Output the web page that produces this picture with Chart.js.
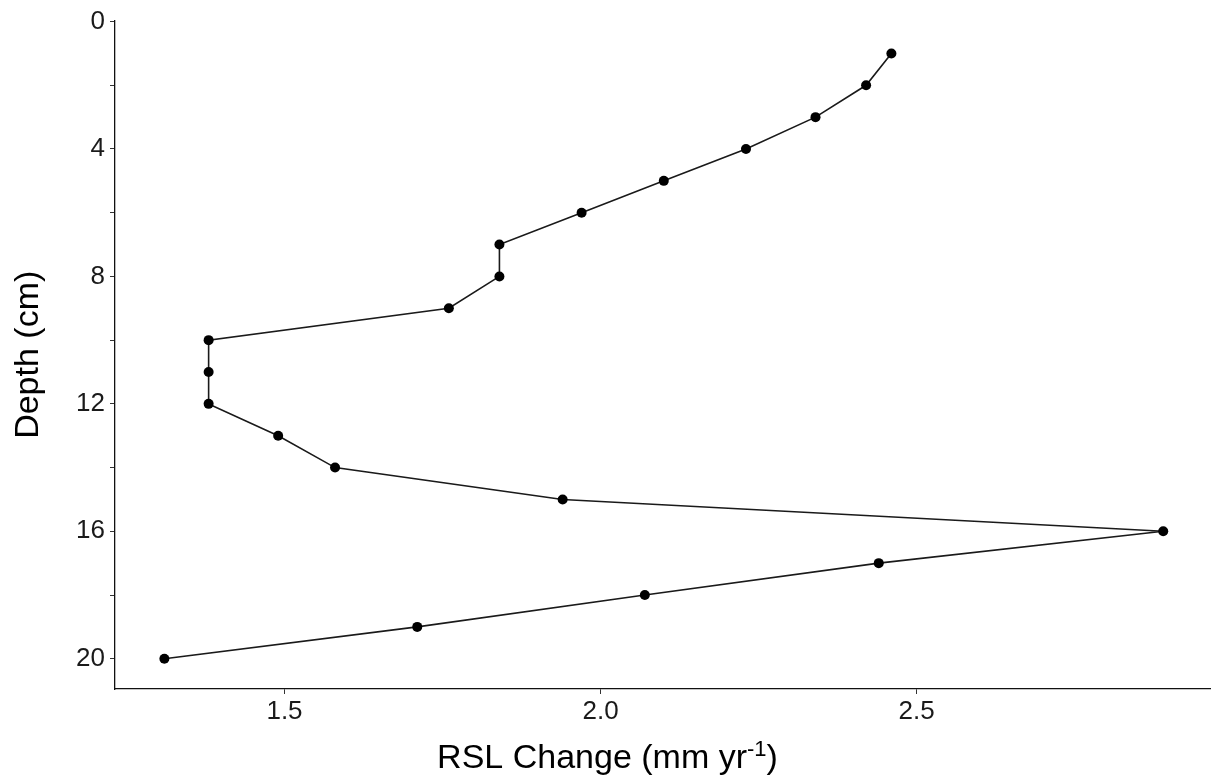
<!DOCTYPE html>
<html>
<head>
<meta charset="utf-8">
<script src="https://cdn.jsdelivr.net/npm/chart.js@4.4.1/dist/chart.umd.min.js"></script>
<style>
    html, body { margin: 0; padding: 0; background: #fff; }
    #wrap { width: 1215px; height: 778px; }
</style>
</head>
<body>
<div id="wrap"><canvas id="rsl-chart" width="1215" height="778"></canvas></div>
<script>
// depth of each sample and the RSL rate read for it
const depths = [1, 2, 3, 4, 5, 6, 7, 8, 9, 10, 11, 12, 13, 14, 15, 16, 17, 18, 19, 20];
const rslChange = [2.46, 2.42, 2.34, 2.23, 2.10, 1.97, 1.84, 1.84, 1.76, 1.38,
                   1.38, 1.38, 1.49, 1.58, 1.94, 2.89, 2.44, 2.07, 1.71, 1.31];
const xTicks = [1.5, 2.0, 2.5];
const yTicks = [0, 2, 4, 6, 8, 10, 12, 14, 16, 18, 20];
const yLabelled = [0, 4, 8, 12, 16, 20];

const fontFamily = '"Liberation Sans", Arial, Helvetica, sans-serif';

// x title is centred on the whole figure, with a real superscript
const xTitlePlugin = {
    id: 'xTitle',
    afterDraw(chart) {
        const c = chart.ctx;
        const main = 'RSL Change (mm yr';
        const sup = '-1';
        const tail = ')';
        c.save();
        c.fillStyle = '#000';
        c.textBaseline = 'alphabetic';
        c.font = '34px ' + fontFamily;
        const wMain = c.measureText(main).width;
        const wTail = c.measureText(tail).width;
        c.font = '22px ' + fontFamily;
        const wSup = c.measureText(sup).width;
        const total = wMain + wSup + wTail;
        let x = chart.width / 2 - total / 2;
        const y = 768;
        c.font = '34px ' + fontFamily;
        c.fillText(main, x, y);
        x += wMain;
        c.font = '22px ' + fontFamily;
        c.fillText(sup, x, y - 12);
        x += wSup;
        c.font = '34px ' + fontFamily;
        c.fillText(tail, x, y);
        c.restore();
    }
};

const ctx = document.getElementById('rsl-chart').getContext('2d');

const points = depths.map((d, i) => ({ x: rslChange[i], y: d }));

new Chart(ctx, {
    type: 'scatter',
    data: {
        datasets: [{
            data: points,
            showLine: true,
            borderColor: '#1a1a1a',
            borderWidth: 1.6,
            pointRadius: 5,
            pointBackgroundColor: '#000',
            pointBorderWidth: 0
        }]
    },
    options: {
        responsive: false,
        animation: false,
        layout: { padding: { top: 17, right: 2, left: 0, bottom: 0 } },
        plugins: {
            legend: { display: false },
            tooltip: { enabled: false }
        },
        scales: {
            x: {
                type: 'linear',
                min: 1.2319,
                max: 2.964,
                afterBuildTicks: axis => { axis.ticks = xTicks.map(v => ({ value: v })); },
                afterFit: axis => { axis.height = 89; },
                grid: { drawOnChartArea: false, drawTicks: true, tickLength: 5, color: '#333', lineWidth: 1 },
                border: { display: true, color: '#111', width: 1.3 },
                ticks: {
                    color: '#1a1a1a',
                    padding: 2,
                    font: { family: fontFamily, size: 26 },
                    callback: v => v.toFixed(1)
                },
                title: { display: false }
            },
            y: {
                type: 'linear',
                reverse: true,
                min: -0.03,
                max: 20.95,
                afterBuildTicks: axis => { axis.ticks = yTicks.map(v => ({ value: v })); },
                afterFit: axis => { axis.width = 115; },
                grid: { drawOnChartArea: false, drawTicks: true, tickLength: 5, color: '#333', lineWidth: 1 },
                border: { display: true, color: '#111', width: 1.3 },
                ticks: {
                    color: '#1a1a1a',
                    padding: 5,
                    font: { family: fontFamily, size: 26 },
                    callback: v => (yLabelled.includes(v) ? String(v) : '')
                },
                title: {
                    display: true,
                    text: 'Depth (cm)',
                    color: '#000',
                    padding: { top: 8, bottom: 0 },
                    font: { family: fontFamily, size: 34 }
                }
            }
        }
    },
    plugins: [xTitlePlugin]
});
</script>
</body>
</html>
